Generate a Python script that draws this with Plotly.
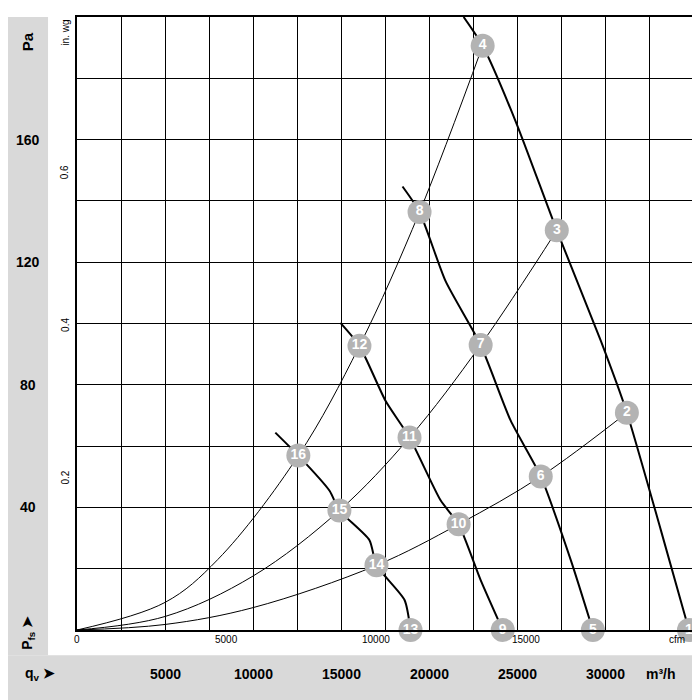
import plotly.graph_objects as go

# Fan curves (m³/h, Pa)
fanA_q = [21967, 23049, 24927, 27260, 29764, 31244, 33178, 34772]
fanA_p = [200, 190.6, 165.9, 130.4, 94.3, 70.9, 32.5, 0]
fanB_q = [18496, 19463, 20943, 22935, 24642, 26350, 28057, 29310]
fanB_p = [144.7, 136.4, 113.8, 93.0, 68.3, 50.1, 22.8, 0]
fanC_q = [14967, 16049, 17528, 18894, 20658, 21683, 22935, 24190]
fanC_p = [100.2, 92.7, 74.8, 62.8, 42.3, 34.5, 16.3, 0]
fanD_q = [11268, 12577, 14341, 14910, 16618, 17016, 18610, 18950]
fanD_p = [64.4, 56.9, 45.5, 39.0, 29.3, 21.1, 9.8, 0]
# System curves
sys1_q = [0, 5000, 8000, 12577, 16049, 19463, 23049]
sys1_p = [0, 9, 23, 56.9, 92.7, 136.4, 190.6]
sys2_q = [0, 5000, 10000, 14910, 18894, 22935, 27260]
sys2_p = [0, 4.4, 17.6, 39.0, 62.8, 93.0, 130.4]
sys3_q = [0, 5000, 10000, 17016, 21683, 26350, 31244]
sys3_p = [0, 1.8, 7.3, 21.1, 34.5, 50.1, 70.9]
# Numbered operating points
pt_num = ["1", "2", "3", "4", "5", "6", "7", "8", "9", "10", "11", "12", "13", "14", "15", "16"]
pt_q = [34772, 31244, 27260, 23049, 29310, 26350, 22935, 19463, 24190, 21683, 18894, 16049, 18950, 17016, 14910, 12577]
pt_p = [0, 70.9, 130.4, 190.6, 0, 50.1, 93.0, 136.4, 0, 34.5, 62.8, 92.7, 0, 21.1, 39.0, 56.9]

pa_ticks = [40, 80, 120, 160]
qv_ticks = [5000, 10000, 15000, 20000, 25000, 30000]
inwg_ticks = [0.2, 0.4, 0.6]
cfm_ticks = [0, 5000, 10000, 15000]

fig = go.Figure()
for q, p in [(sys1_q, sys1_p), (sys2_q, sys2_p), (sys3_q, sys3_p)]:
    fig.add_trace(go.Scatter(x=q, y=p, mode="lines", line=dict(color="black", width=1, shape="spline"), hoverinfo="skip"))
for q, p in [(fanA_q, fanA_p), (fanB_q, fanB_p), (fanC_q, fanC_p), (fanD_q, fanD_p)]:
    fig.add_trace(go.Scatter(x=q, y=p, mode="lines", line=dict(color="black", width=2, shape="spline", smoothing=0.6), hoverinfo="skip"))
fig.add_trace(go.Scatter(x=pt_q, y=pt_p, mode="markers+text", text=[f"<b>{n}</b>" for n in pt_num], cliponaxis=False,
                         marker=dict(size=24, color="#b3b3b3", line=dict(width=0)),
                         textfont=dict(color="white", size=14, family="Liberation Sans"),
                         textposition="middle center"))

F = "Liberation Sans"
K = "black"
ann = []
def A(**kw):
    kw.setdefault("showarrow", False)
    kw.setdefault("xanchor", "center")
    kw.setdefault("yanchor", "middle")
    ann.append(kw)

for v in pa_ticks:
    A(x=-0.08, xref="paper", y=v, yref="y", text=f"<b>{v}</b>", font=dict(size=14, family=F, color=K))
for v in qv_ticks:
    A(x=v, xref="x", y=-0.072, yref="paper", text=f"<b>{v}</b>", font=dict(size=14, family=F, color=K))
A(x=33200, xref="x", y=-0.072, yref="paper", text="<b>m³/h</b>", font=dict(size=14, family=F, color=K))
A(x=-0.08, xref="paper", y=0.96, yref="paper", text="<b>Pa</b>", textangle=-90, font=dict(size=15, family=F, color=K))
A(x=-0.08, xref="paper", y=-0.005, yref="paper", text="<b>P<sub>fs</sub> ➤</b>", textangle=-90, font=dict(size=14, family=F, color=K))
A(x=-0.06, xref="paper", y=-0.072, yref="paper", text="<b>q<sub>v</sub> ➤</b>", font=dict(size=14, family=F, color=K))
for v in inwg_ticks:
    A(x=-0.019, xref="paper", y=v * 249.09, yref="y", text=f"{v}", textangle=-90, font=dict(size=10, family=F, color=K))
A(x=-0.019, xref="paper", y=0.975, yref="paper", text="in. wg", textangle=-90, font=dict(size=10, family=F, color=K))
for v in cfm_ticks:
    A(x=v * 1.699, xref="x", y=0, yref="y", yshift=-9, text=f"{v}", font=dict(size=10, family=F, color=K))
A(x=34100, xref="x", y=0, yref="y", yshift=-9, text="cfm", font=dict(size=10, family=F, color=K))

shapes = [
    dict(type="rect", xref="paper", yref="paper", x0=-0.125, x1=-0.047, y0=-0.041, y1=1.0, fillcolor="#d9d9d9", line=dict(width=0), layer="below"),
    dict(type="rect", xref="paper", yref="paper", x0=-0.125, x1=1.025, y0=-0.13, y1=-0.041, fillcolor="#d9d9d9", line=dict(width=0), layer="below"),
]

fig.update_layout(
    width=700, height=700, showlegend=False, paper_bgcolor="white", plot_bgcolor="white",
    margin=dict(l=69, r=15, t=7, b=78), annotations=ann, shapes=shapes,
    font=dict(family=F, color=K),
    xaxis=dict(range=[0, 35000], dtick=2500, showgrid=True, gridcolor="black", gridwidth=1.3,
               showticklabels=False, zeroline=False, showline=True, linecolor="black", linewidth=1.5, mirror=True, ticks=""),
    yaxis=dict(range=[0, 200], dtick=20, showgrid=True, gridcolor="black", gridwidth=1.3,
               showticklabels=False, zeroline=False, showline=True, linecolor="black", linewidth=1.5, mirror=True, ticks=""),
)
fig.write_html("out.html")
